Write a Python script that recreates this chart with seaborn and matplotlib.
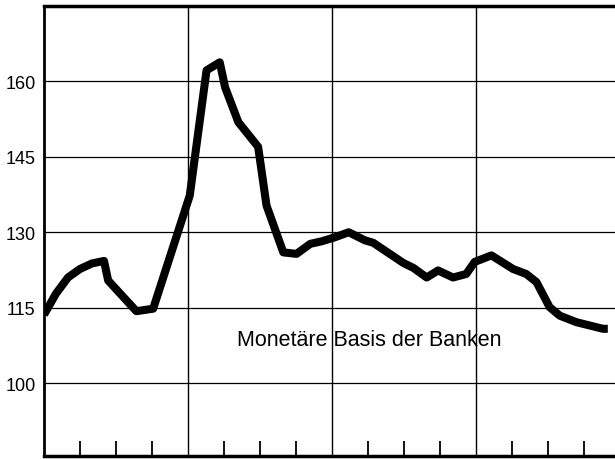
import numpy as np
import pandas as pd
import matplotlib
matplotlib.use("Agg")
import matplotlib.pyplot as plt
import seaborn as sns

# Monate seit Beginn (Januar des ersten Jahres = 0) und Indexwerte
monat = [0, 1, 2, 3, 4, 5, 5.35, 7.7, 9.1, 12.15, 13.55, 14.65, 15.1, 16.2,
         17.85, 18.55, 19.95, 21.05, 22.2, 23.15, 24.25, 25.4, 26.75, 27.45,
         29.95, 30.8, 31.9, 32.85, 34.1, 35.2, 35.9, 37.3, 39.1, 40.2, 41.05,
         42.15, 43.0, 44.4, 46.6, 47.0]
basis = [113.6, 117.8, 121.0, 122.7, 123.8, 124.3, 120.4, 114.3, 114.8, 137.3,
         162.2, 163.8, 158.8, 151.9, 147.0, 135.3, 126.0, 125.7, 127.7, 128.2,
         129.0, 130.0, 128.4, 127.9, 123.9, 122.9, 121.0, 122.4, 121.0, 121.7,
         124.1, 125.4, 122.7, 121.7, 120.1, 115.1, 113.4, 112.1, 110.8, 110.8]

y_ticks = [100, 115, 130, 145, 160]
jahr_grenzen = [12, 24, 36]
quartale = [3, 6, 9, 15, 18, 21, 27, 30, 33, 39, 42, 45]
beschriftung = "Monetäre Basis der Banken"

df = pd.DataFrame({"monat": monat, "basis": basis})

sns.set_style("white")
plt.rcParams["font.family"] = ["Liberation Sans", "DejaVu Sans"]

fig = plt.figure(figsize=(6.15, 4.6), dpi=100)
ax = fig.add_axes([44 / 615, 3 / 460, 571 / 615, 450 / 460])

# Gitter
for y in y_ticks:
    ax.axhline(y, color="black", linewidth=0.9, zorder=1)
for x in jahr_grenzen:
    ax.axvline(x, color="black", linewidth=1.0, zorder=1)

sns.lineplot(data=df, x="monat", y="basis", ax=ax, color="black",
             linewidth=5.8, estimator=None, sort=False, zorder=3)
ax.lines[-1].set_solid_joinstyle("round")
ax.lines[-1].set_solid_capstyle("butt")

ax.set_xlim(0, 47.6)
ax.set_ylim(85.5, 175)
ax.set_yticks(y_ticks)
ax.set_yticklabels([str(v) for v in y_ticks], fontsize=13, color="black")
ax.tick_params(axis="y", left=False, length=0, pad=6)
ax.set_xticks(quartale)
ax.set_xticklabels([])
ax.tick_params(axis="x", bottom=True, direction="in", length=11, width=1.3,
               color="black")
ax.set_xlabel("")
ax.set_ylabel("")

for side in ["left", "bottom", "top"]:
    ax.spines[side].set_visible(True)
    ax.spines[side].set_color("black")
ax.spines["left"].set_linewidth(2.0)
ax.spines["bottom"].set_linewidth(2.5)
ax.spines["top"].set_linewidth(2.5)
ax.spines["right"].set_visible(False)

ax.text(16.1, 107.5, beschriftung, fontsize=15.5, color="black",
        ha="left", va="baseline")

fig.savefig("out.png", dpi=100)
